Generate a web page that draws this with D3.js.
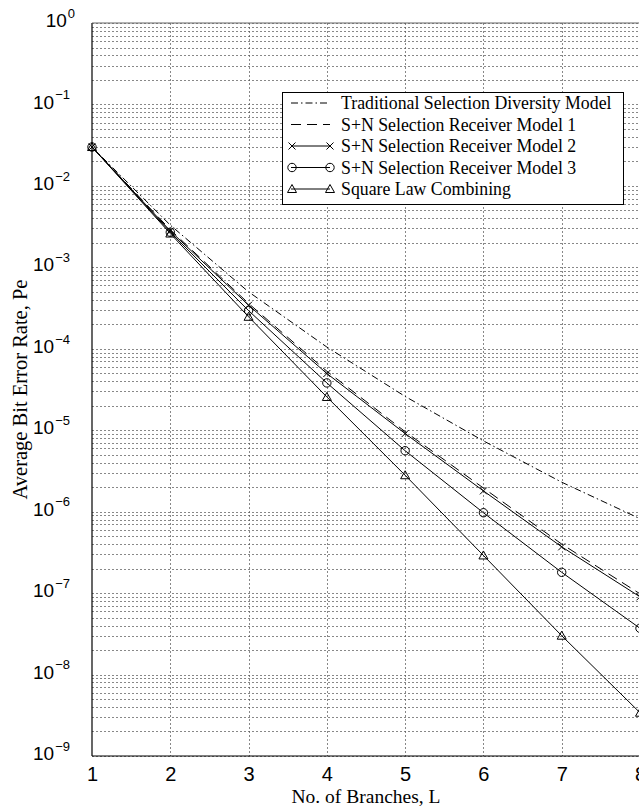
<!DOCTYPE html>
<html><head><meta charset="utf-8">
<script src="https://cdn.jsdelivr.net/npm/d3@7"></script>
<style>
body{margin:0;background:#fff;}
svg{display:block;}
</style></head>
<body>
<svg id="chart" width="639" height="808"></svg>
<script>
const branches = [1,2,3,4,5,6,7,8];
const traditional = [3.0e-2, 3.3e-3, 5.0e-4, 1.05e-4, 2.6e-5, 7.4e-6, 2.3e-6, 8.2e-7];
const model1      = [3.0e-2, 2.9e-3, 3.6e-4, 5.3e-5, 9.6e-6, 1.95e-6, 4.0e-7, 9.8e-8];
const model2      = [3.0e-2, 2.8e-3, 3.43e-4, 4.97e-5, 9.1e-6, 1.8e-6, 3.7e-7, 9.0e-8];
const model3      = [3.0e-2, 2.7e-3, 2.94e-4, 3.81e-5, 5.6e-6, 9.7e-7, 1.8e-7, 3.7e-8];
const squareLaw   = [3.0e-2, 2.6e-3, 2.47e-4, 2.56e-5, 2.8e-6, 2.9e-7, 3.0e-8, 3.4e-9];
const seriesNames = ["Traditional Selection Diversity Model","S+N Selection Receiver Model 1","S+N Selection Receiver Model 2","S+N Selection Receiver Model 3","Square Law Combining"];
const yTickExps = [0,-1,-2,-3,-4,-5,-6,-7,-8,-9];
const xLabel = "No. of Branches, L";
const yLabel = "Average Bit Error Rate, Pe";

const series = [
  {name: seriesNames[0], values: traditional, dash: "7,3,1.5,3", marker: null},
  {name: seriesNames[1], values: model1, dash: "10,6", marker: null},
  {name: seriesNames[2], values: model2, dash: null, marker: "x"},
  {name: seriesNames[3], values: model3, dash: null, marker: "o"},
  {name: seriesNames[4], values: squareLaw, dash: null, marker: "t"}
];

const svg = d3.select("#chart");
const L = 92, R = 640, T = 23, B = 756;
const x = d3.scaleLinear().domain([1,8]).range([L,R]);
const y = d3.scaleLog().domain([1e-9,1]).range([B,T]);

// grid
const grid = svg.append("g").attr("stroke","#555").attr("stroke-width",0.7).attr("stroke-dasharray","2,2").attr("fill","none");
grid.selectAll("line.h").data(y.ticks()).join("line")
  .attr("x1",L).attr("x2",R).attr("y1",d=>Math.round(y(d))+0.5).attr("y2",d=>Math.round(y(d))+0.5);
grid.selectAll("line.v").data(x.ticks(7).filter(d=>d>1&&d<8)).join("line")
  .attr("y1",T).attr("y2",B).attr("x1",d=>Math.round(x(d))+0.5).attr("x2",d=>Math.round(x(d))+0.5);

// axes
const xAxis = svg.append("g").attr("transform",`translate(0,${B})`)
  .call(d3.axisBottom(x).tickValues(branches).tickSize(0).tickPadding(11).tickFormat(d3.format("d")));
xAxis.select(".domain").remove();
xAxis.selectAll("text").attr("font-family","'Liberation Sans',Arial,sans-serif").attr("font-size",20).attr("fill","#000");

const yAxis = svg.append("g").attr("transform",`translate(${L},0)`)
  .call(d3.axisLeft(y).tickValues(yTickExps.map(e=>Math.pow(10,e))).tickSize(0).tickPadding(22).tickFormat(()=>""));
yAxis.select(".domain").remove();
yAxis.selectAll(".tick text").each(function(d){
  const t = d3.select(this);
  const e = Math.round(Math.log10(d));
  t.attr("font-family","'Liberation Sans',Arial,sans-serif").attr("fill","#000").attr("dy","0.36em").attr("text-anchor","end");
  if(e===0) t.attr("x",-17);
  t.append("tspan").attr("font-size",19).text("10");
  t.append("tspan").attr("font-size",13).attr("dx",1).attr("dy","-0.72em").text(e===0?"0":"\u2212"+Math.abs(e));
});

// frame
svg.append("g").attr("stroke","#000").attr("stroke-width",1.2).call(g=>{
  g.append("line").attr("x1",L).attr("x2",L).attr("y1",T).attr("y2",B);
  g.append("line").attr("x1",L).attr("x2",R).attr("y1",B).attr("y2",B);
  g.append("line").attr("x1",L).attr("x2",R).attr("y1",T).attr("y2",T).attr("stroke","#666").attr("stroke-width",1);
  g.append("line").attr("x1",R).attr("x2",R).attr("y1",T).attr("y2",B);
});

// lines
const line = d3.line().x((d,i)=>x(branches[i])).y(d=>y(d));
function drawMarker(g, type, cx, cy){
  if(type==="x"){
    g.append("path").attr("d",`M${cx-3.5},${cy-3.5}L${cx+3.5},${cy+3.5}M${cx-3.5},${cy+3.5}L${cx+3.5},${cy-3.5}`)
      .attr("stroke","#000").attr("stroke-width",1).attr("fill","none");
  } else if(type==="o"){
    g.append("circle").attr("cx",cx).attr("cy",cy).attr("r",4.2).attr("stroke","#000").attr("stroke-width",1).attr("fill","none");
  } else if(type==="t"){
    g.append("path").attr("d",`M${cx},${cy-4.5}L${cx+4.5},${cy+3.5}L${cx-4.5},${cy+3.5}Z`)
      .attr("stroke","#000").attr("stroke-width",1).attr("fill","none");
  }
}
const plot = svg.append("g");
series.forEach(s=>{
  plot.append("path").attr("d",line(s.values)).attr("fill","none").attr("stroke","#000").attr("stroke-width",1)
    .attr("stroke-dasharray",s.dash);
  if(s.marker){
    s.values.forEach((v,i)=>drawMarker(plot,s.marker,x(branches[i]),y(v)));
  }
});

// legend
const lg = svg.append("g");
lg.append("rect").attr("x",282.5).attr("y",92.5).attr("width",341).attr("height",112)
  .attr("fill","#fff").attr("stroke","#000").attr("stroke-width",1);
const rowY = [103,124.5,146,167.5,189];
series.forEach((s,i)=>{
  const ry = rowY[i];
  lg.append("line").attr("x1",291).attr("x2",330).attr("y1",ry).attr("y2",ry)
    .attr("stroke","#000").attr("stroke-width",1).attr("stroke-dasharray",s.dash);
  if(s.marker){ drawMarker(lg,s.marker,292,ry); drawMarker(lg,s.marker,330,ry); }
  lg.append("text").attr("x",341).attr("y",ry).attr("dy","0.35em")
    .attr("font-family","'Liberation Serif','Times New Roman',serif").attr("font-size",17.8).attr("fill","#000").text(s.name);
});

// titles
svg.append("text").attr("x",(L+R)/2).attr("y",803).attr("text-anchor","middle")
  .attr("font-family","'Liberation Serif','Times New Roman',serif").attr("font-size",19.5).text(xLabel);
svg.append("text").attr("transform",`translate(27,${(T+B)/2}) rotate(-90)`).attr("text-anchor","middle")
  .attr("font-family","'Liberation Serif','Times New Roman',serif").attr("font-size",20.5).text(yLabel);
</script>
</body></html>
